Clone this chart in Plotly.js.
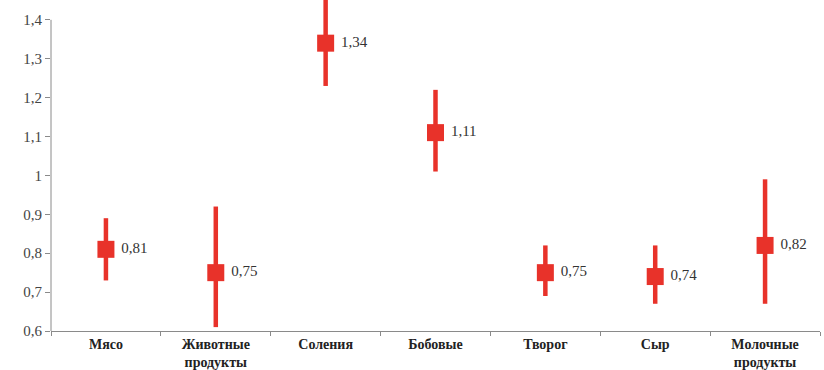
<!DOCTYPE html>
<html><head><meta charset="utf-8">
<script src="https://cdn.plot.ly/plotly-3.0.1.min.js"></script>
<style>html,body{margin:0;padding:0;background:#fff}#c{width:824px;height:370px}</style>
</head><body><div id="c"></div>
<script>
const categories = ["Мясо", "Животные<br>продукты", "Соления", "Бобовые", "Творог", "Сыр", "Молочные<br>продукты"];
const values = [0.81, 0.75, 1.34, 1.11, 0.75, 0.74, 0.82];
const lowerCI = [0.73, 0.61, 1.23, 1.01, 0.69, 0.67, 0.67];
const upperCI = [0.89, 0.92, 1.46, 1.22, 0.82, 0.82, 0.99];
const labels = ["0,81", "0,75", "1,34", "1,11", "0,75", "0,74", "0,82"];
const yTicks = [0.6, 0.7, 0.8, 0.9, 1.0, 1.1, 1.2, 1.3, 1.4];
const yTickText = ["0,6", "0,7", "0,8", "0,9", "1", "1,1", "1,2", "1,3", "1,4"];

const red = "#e8322a";
const axisGray = "#8a8a8a";
const trace = {
  type: "scatter", mode: "markers+text",
  x: categories, y: values,
  text: labels.map(s => " " + s), textposition: "middle right",
  textfont: {family: "Liberation Serif", size: 15, color: "#333"},
  cliponaxis: false,
  marker: {symbol: "square", size: 17, color: red},
  error_y: {type: "data", symmetric: false,
    array: upperCI.map((u, i) => u - values[i]),
    arrayminus: values.map((v, i) => v - lowerCI[i]),
    color: red, thickness: 4.5, width: 0},
  hoverinfo: "skip"
};
const layout = {
  width: 824, height: 370,
  margin: {l: 51, r: 4, t: 0, b: 39},
  paper_bgcolor: "#fff", plot_bgcolor: "#fff",
  showlegend: false,
  xaxis: {type: "category", showgrid: false, zeroline: false,
    showline: true, linecolor: axisGray, linewidth: 1,
    ticks: "outside", tickson: "boundaries", ticklen: 4, tickcolor: axisGray,
    tickfont: {family: "Liberation Serif", size: 14, color: "#222", weight: "bold"},
    range: [-0.5, 6.5]},
  yaxis: {range: [0.6, 1.451], tickmode: "array", tickvals: yTicks, ticktext: yTickText,
    showgrid: false, zeroline: false, showline: false,
    ticks: "outside", ticklen: 5, tickcolor: axisGray,
    tickfont: {family: "Liberation Serif", size: 15, color: "#444"}},
  shapes: [{type: "line", xref: "paper", yref: "y", x0: 0, x1: 0,
    y0: yTicks[0], y1: yTicks[yTicks.length - 1],
    line: {color: axisGray, width: 1}, layer: "below"}]
};
Plotly.newPlot("c", [trace], layout, {displayModeBar: false, staticPlot: true});
</script></body></html>
